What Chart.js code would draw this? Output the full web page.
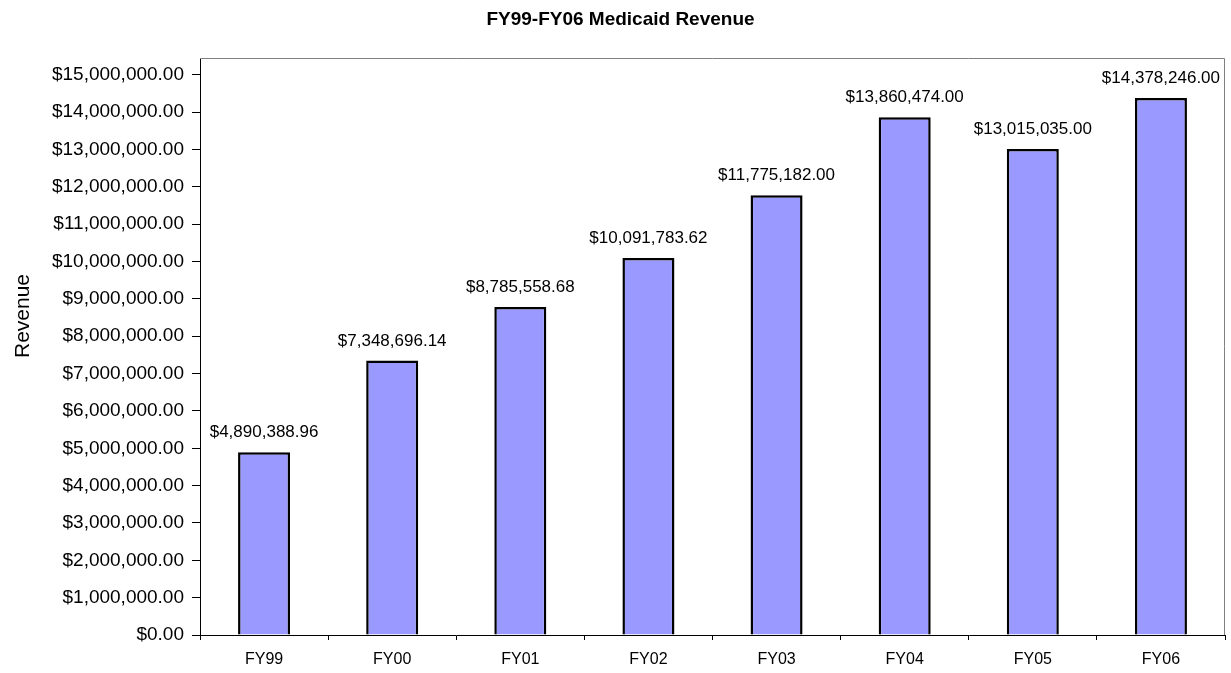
<!DOCTYPE html>
<html>
<head>
<meta charset="utf-8">
<script src="https://cdn.jsdelivr.net/npm/chart.js@4/dist/chart.umd.min.js"></script>
<style>
html,body{margin:0;padding:0;background:#fff;}
#wrap{width:1231px;height:673px;}
</style>
</head>
<body>
<div id="wrap"><canvas id="c" width="1231" height="673"></canvas></div>
<script>
const categories = ["FY99","FY00","FY01","FY02","FY03","FY04","FY05","FY06"];
const revenue = [4890388.96, 7348696.14, 8785558.68, 10091783.62, 11775182.00, 13860474.00, 13015035.00, 14378246.00];
const yTickValues = [0, 1000000, 2000000, 3000000, 4000000, 5000000, 6000000, 7000000, 8000000, 9000000, 10000000, 11000000, 12000000, 13000000, 14000000, 15000000];
const chartTitle = "FY99-FY06 Medicaid Revenue";
const yAxisTitle = "Revenue";

function money(v){
  return "$" + Number(v).toLocaleString("en-US",{minimumFractionDigits:2,maximumFractionDigits:2});
}

Chart.defaults.font.family = '"Liberation Sans", Arial, sans-serif';
Chart.defaults.color = "#000";

const labelPlugin = {
  id: "barLabels",
  afterDatasetsDraw(chart){
    const ctx = chart.ctx;
    const meta = chart.getDatasetMeta(0);
    ctx.save();
    ctx.font = '17px "Liberation Sans", Arial, sans-serif';
    ctx.fillStyle = "#000";
    ctx.textAlign = "center";
    ctx.textBaseline = "alphabetic";
    meta.data.forEach((bar, i) => {
      const txt = money(revenue[i]);
      const w = ctx.measureText(txt).width;
      let x = bar.x;
      if (x + w/2 > chart.width - 6) x = chart.width - 6 - w/2;
      ctx.fillText(txt, x, bar.y - 15);
    });
    // y axis title
    ctx.font = '21px "Liberation Sans", Arial, sans-serif';
    ctx.translate(23, 316);
    ctx.rotate(-Math.PI/2);
    ctx.textAlign = "center";
    ctx.textBaseline = "middle";
    ctx.fillText(yAxisTitle, 0, 0);
    ctx.restore();
  }
};

const boxPlugin = {
  id: "plotBox",
  afterDraw(chart){
    const a = chart.chartArea, ctx = chart.ctx;
    ctx.save();
    ctx.strokeStyle = "#808080";
    ctx.lineWidth = 1;
    ctx.beginPath();
    ctx.moveTo(a.left, a.top + 0.5);
    ctx.lineTo(a.right - 0.5, a.top + 0.5);
    ctx.lineTo(a.right - 0.5, a.bottom);
    ctx.stroke();
    ctx.restore();
  }
};

new Chart(document.getElementById("c"), {
  type: "bar",
  data: {
    labels: categories,
    datasets: [{
      data: revenue,
      backgroundColor: "#9999FF",
      borderColor: "#000",
      borderWidth: 2.5,
      barPercentage: 0.406,
      categoryPercentage: 1
    }]
  },
  options: {
    responsive: false,
    animation: false,
    layout: { padding: { left: 16, right: 6, top: 0, bottom: 0 } },
    plugins: {
      legend: { display: false },
      tooltip: { enabled: false },
      title: {
        display: true,
        text: chartTitle,
        font: { size: 19, weight: "bold" },
        color: "#000",
        padding: { top: 8, bottom: 27.2 }
      }
    },
    scales: {
      x: {
        offset: true,
        grid: { display: true, drawOnChartArea: false, offset: true, tickLength: 5, color: "#000" },
        border: { display: true, color: "#000", width: 1 },
        ticks: { font: { size: 16 }, color: "#000", padding: 10, maxRotation: 0 },
        afterFit(s){ s.height = 38; }
      },
      y: {
        min: 0,
        max: 15450000,
        grid: { display: true, drawOnChartArea: false, tickLength: 8, color: "#000" },
        border: { display: true, color: "#000", width: 1 },
        ticks: {
          autoSkip: false,
          font: { size: 19 },
          color: "#000",
          padding: 8,
          callback: (v) => money(v)
        },
        afterBuildTicks(s){
          s.ticks = yTickValues.map(v => ({ value: v }));
        },
        afterFit(s){ s.width = 184; }
      }
    }
  },
  plugins: [labelPlugin, boxPlugin]
});
</script>
</body>
</html>
